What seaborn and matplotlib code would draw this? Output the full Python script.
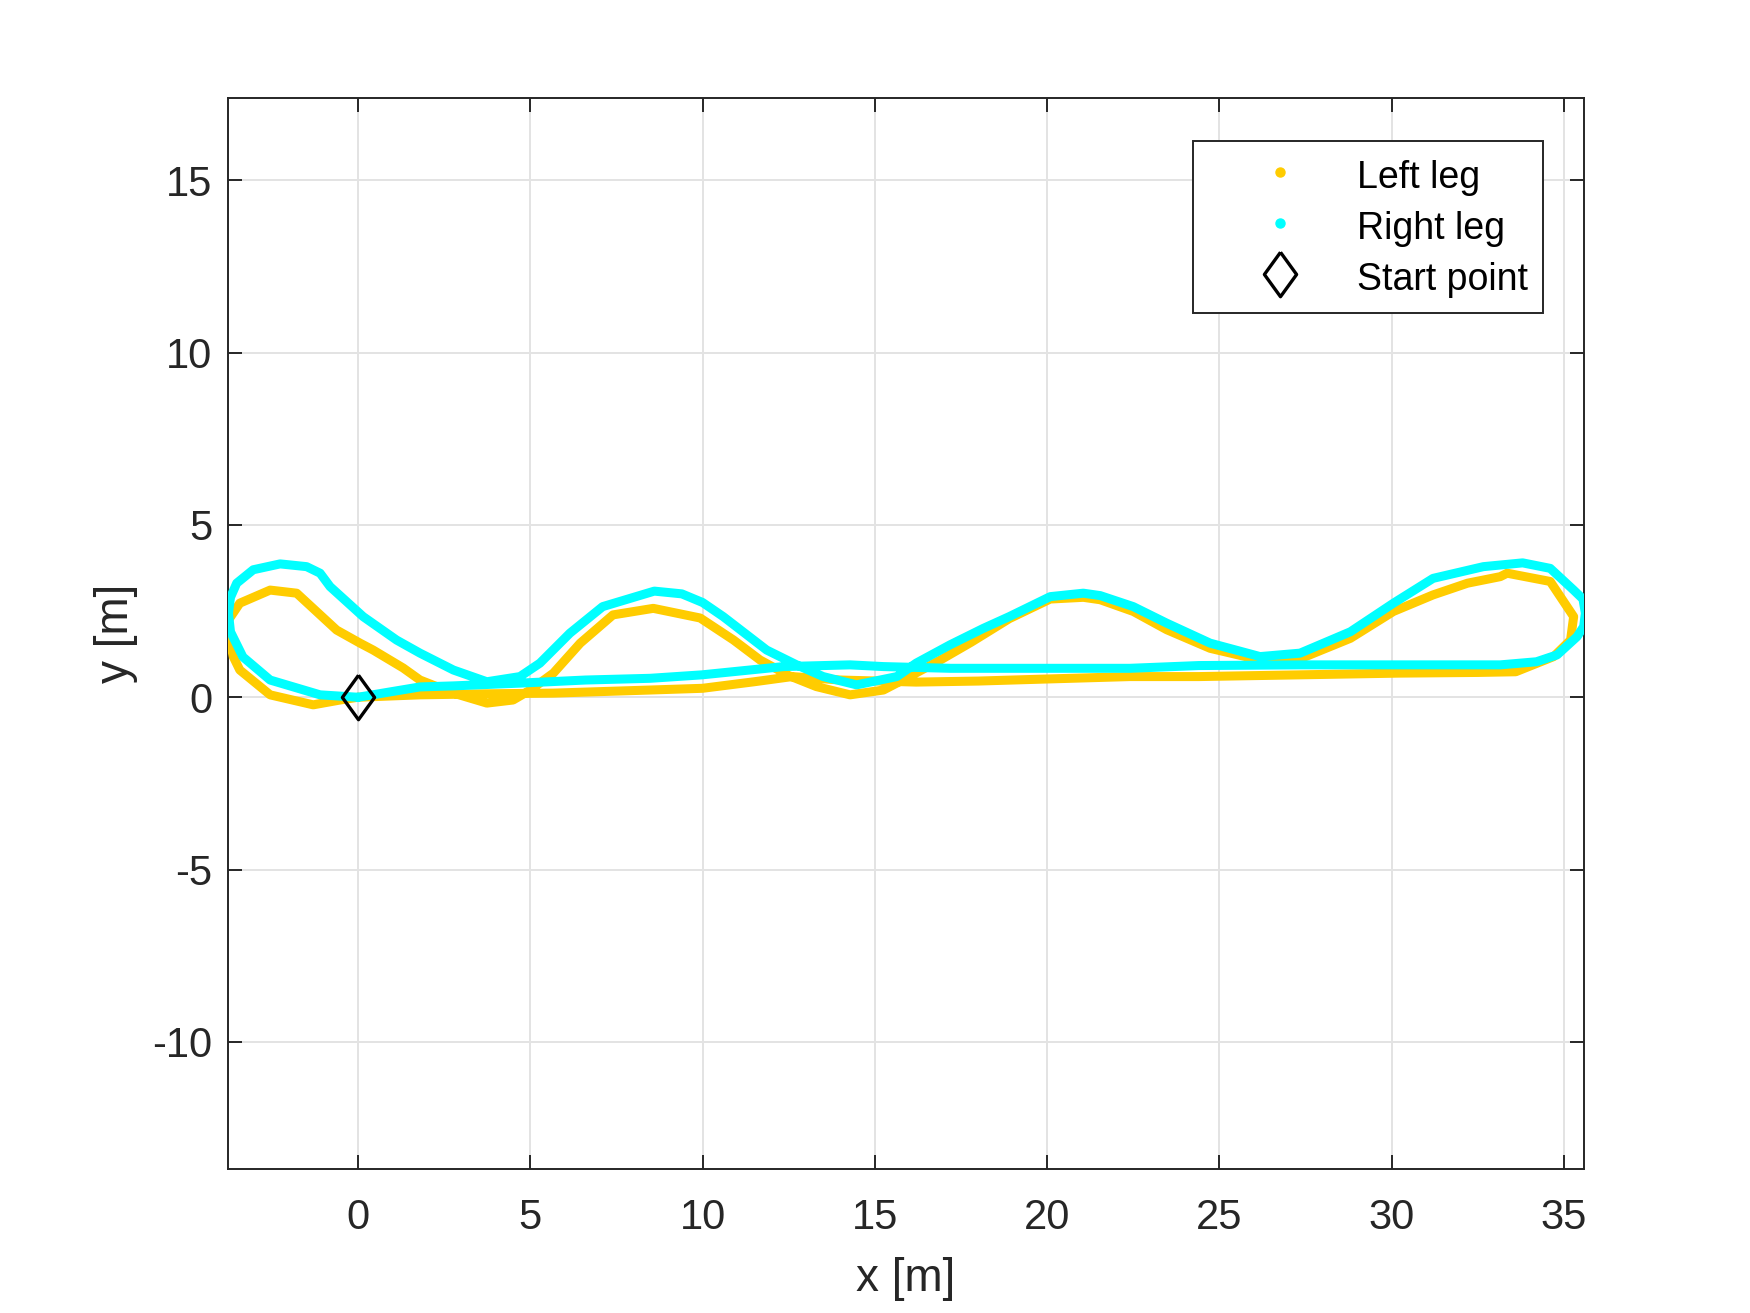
import numpy as np
import pandas as pd
import matplotlib
matplotlib.use("Agg")
import matplotlib.pyplot as plt
from matplotlib.lines import Line2D
import seaborn as sns

# trajectories, in walking order from the start point
left_x = [0.0, 1.8, 3.7, 5.67, 8.48, 10.0, 11.5, 12.6, 14.0, 16.2, 18.0, 20.0,
          22.4, 24.4, 27.3, 30.2, 32.5, 33.6, 34.7, 35.19, 35.28, 34.6, 33.35,
          33.15, 32.2, 31.2, 30.05, 28.8, 27.5, 26.18, 24.73, 23.47, 22.5,
          21.54, 21.05, 20.09, 18.9, 17.8, 16.9, 16.0, 15.25, 14.28, 13.3,
          12.5, 11.67, 10.9, 9.93, 8.57, 7.4, 6.45, 5.67, 5.0, 4.5, 3.74, 2.77,
          1.8, 1.31, 0.44, 0.06, -0.62, -1.78, -2.55, -3.43, -3.82, -3.62,
          -3.43, -2.55, -1.3, -0.52, 0.0]
left_y = [0.0, 0.07, 0.1, 0.12, 0.21, 0.26, 0.45, 0.6, 0.5, 0.44, 0.47, 0.53,
          0.6, 0.6, 0.65, 0.7, 0.72, 0.74, 1.18, 1.66, 2.34, 3.36, 3.6,
          3.5, 3.31, 2.97, 2.49, 1.71, 1.18, 1.08, 1.42, 1.96, 2.49,
          2.83, 2.9, 2.85, 2.28, 1.6, 1.08, 0.6, 0.21, 0.07, 0.31,
          0.63, 1.08, 1.66, 2.3, 2.58, 2.39, 1.57, 0.7, 0.21, -0.08, -0.17, 0.12,
          0.5, 0.85, 1.37, 1.57, 1.95, 3.02, 3.11, 2.73, 2.15, 1.18,
          0.79, 0.07, -0.22, -0.08, 0.0]

right_x = [0.0, 1.8, 2.77, 4.7, 6.6, 8.48, 9.98, 12.35, 14.28, 15.25, 17.2,
           19.5, 22.4, 24.4, 27.34, 30.2, 33.15, 34.2, 34.8, 35.38, 35.57,
           35.62, 35.55, 35.28, 34.6, 33.8, 32.66, 31.2, 30.05, 28.8, 27.34,
           26.18, 24.73, 23.47, 22.5, 21.54, 21.05, 20.09, 18.9, 18.15, 17.18,
           16.2, 15.64, 14.47, 13.5, 12.73, 11.86, 10.6, 10.0, 9.4, 8.6, 7.1,
           6.15, 5.28, 4.7, 3.74, 2.77, 1.8, 1.12, 0.15, -0.81, -1.1, -1.49,
           -2.26, -3.04, -3.52, -3.7, -3.76, -3.7, -3.34, -2.55, -1.1, 0.0]
right_y = [0.0, 0.3, 0.33, 0.41, 0.5, 0.55, 0.65, 0.89, 0.94, 0.89, 0.84,
           0.84, 0.84, 0.92, 0.94, 0.94, 0.94, 1.03, 1.23, 1.76, 2.05,
           2.44, 2.85, 3.11, 3.74, 3.9, 3.79, 3.45, 2.73, 1.9, 1.28,
           1.18, 1.57, 2.15, 2.63, 2.95, 3.02, 2.92, 2.34, 2.0, 1.52,
           0.99, 0.6, 0.36, 0.6, 0.94, 1.37, 2.34, 2.75, 3.0, 3.08, 2.63,
           1.86, 0.99, 0.6, 0.45, 0.79, 1.28, 1.66, 2.34, 3.21, 3.6, 3.79,
           3.87, 3.7, 3.31, 2.9, 2.44, 1.9, 1.17, 0.5, 0.07, 0.0]

start_x = [0.0]
start_y = [0.0]

x_ticks = [0, 5, 10, 15, 20, 25, 30, 35]
y_ticks = [-10, -5, 0, 5, 10, 15]

LEFT_COLOR = "#FFCC00"
RIGHT_COLOR = "#00FFFF"
AX_COLOR = "#262626"

plt.rcParams["font.family"] = ["Liberation Sans", "DejaVu Sans"]

left_df = pd.DataFrame({"x": left_x, "y": left_y})
right_df = pd.DataFrame({"x": right_x, "y": right_y})

fig = plt.figure(figsize=(17.5, 13.13), dpi=100)
ax = fig.add_axes([0.13, 0.11, 0.775, 0.815])

line_kw = dict(linewidth=6.5, solid_capstyle="round", solid_joinstyle="round")
sns.lineplot(data=left_df, x="x", y="y", sort=False, estimator=None,
             color=LEFT_COLOR, ax=ax, zorder=3, **line_kw)
sns.lineplot(data=right_df, x="x", y="y", sort=False, estimator=None,
             color=RIGHT_COLOR, ax=ax, zorder=4, **line_kw)

# start point marker: a tall diamond like MATLAB's 'd'
diamond = [(0, 0.5), (0.3625, 0), (0, -0.5), (-0.3625, 0), (0, 0.5)]
ax.plot(start_x, start_y, linestyle="none", marker=diamond, markersize=32,
        markerfacecolor="none", markeredgecolor="black", markeredgewidth=2.4,
        zorder=5)

ax.set_xlim(-3.787, 35.573)
ax.set_ylim(-13.677, 17.376)
ax.set_xticks(x_ticks)
ax.set_yticks(y_ticks)
ax.set_xticklabels([str(v) for v in x_ticks])
ax.set_yticklabels([str(v) for v in y_ticks])

ax.grid(True, color="#E3E3E3", linewidth=1.4, zorder=0)
ax.set_axisbelow(True)
for side in ax.spines.values():
    side.set_color(AX_COLOR)
    side.set_linewidth(1.4)
ax.tick_params(axis="both", direction="in", length=10, width=1.4,
               colors=AX_COLOR, labelsize=30, top=True, right=True)
ax.tick_params(axis="y", pad=11)
ax.tick_params(axis="x", pad=21)

ax.set_xlabel("x [m]", fontsize=33, color=AX_COLOR, labelpad=14)
ax.set_ylabel("y [m]", fontsize=33, color=AX_COLOR, labelpad=10)

handles = [
    Line2D([], [], linestyle="none", marker="o", markersize=6.5,
           color=LEFT_COLOR, label="Left leg"),
    Line2D([], [], linestyle="none", marker="o", markersize=6.5,
           color=RIGHT_COLOR, label="Right leg"),
    Line2D([], [], linestyle="none", marker=diamond, markersize=32,
           markerfacecolor="none", markeredgecolor="black",
           markeredgewidth=2.4, label="Start point"),
]
leg = ax.legend(handles=handles, loc="upper right",
                bbox_to_anchor=(0.970, 0.960), borderaxespad=0,
                fontsize=27, fancybox=False, framealpha=1,
                edgecolor=AX_COLOR, borderpad=0.4, handlelength=3.85,
                handleheight=1.2, handletextpad=0.12, labelspacing=0.29)
leg.get_frame().set_linewidth(1.4)

fig.savefig("out.png", dpi=100)
